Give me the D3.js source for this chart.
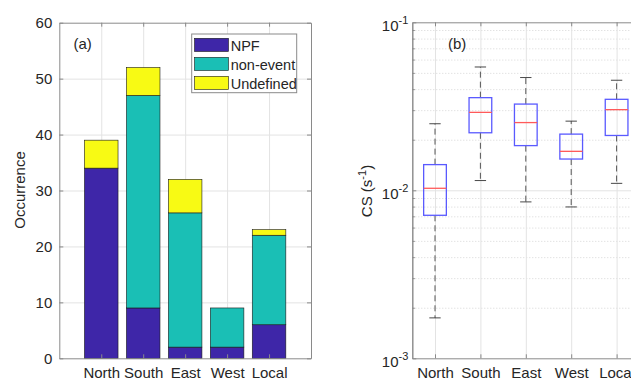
<!DOCTYPE html>
<html>
<head>
<meta charset="utf-8">
<script src="https://cdn.jsdelivr.net/npm/d3@7"></script>
<style>
  html, body { margin: 0; padding: 0; background: #fff; }
  svg { display: block; font-family: "Liberation Sans", Arial, Helvetica, sans-serif; }
</style>
</head>
<body>
<svg id="chart" width="631" height="383"></svg>
<script>
// Wind-sector categories shared by both panels
const categories = ["North", "South", "East", "West", "Local"];

// Panel (a): event occurrence per sector (stacked)
const npfCounts = [34, 9, 2, 2, 6];
const nonEventCounts = [0, 38, 24, 7, 16];
const undefinedCounts = [5, 5, 6, 0, 1];
const occurrenceTicks = [0, 10, 20, 30, 40, 50, 60];
const seriesNames = ["NPF", "non-event", "Undefined"];
const seriesColors = ["#3e26a8", "#1abfb5", "#f8fa14"];

// Panel (b): condensation sink box statistics (s^-1)
const csLowerWhisker = [0.00174, 0.01143, 0.00853, 0.00796, 0.0110];
const csQ1 = [0.0071, 0.0220, 0.01845, 0.01535, 0.0212];
const csMedian = [0.01028, 0.0291, 0.0253, 0.01706, 0.0302];
const csQ3 = [0.01422, 0.0356, 0.0326, 0.0216, 0.0348];
const csUpperWhisker = [0.0249, 0.0542, 0.0469, 0.0258, 0.0452];
const csDecades = [-3, -2, -1];

const svg = d3.select("#chart");
const textColor = "#262626";
const axisColor = "#8a8a8a";
const gridColor = "#e3e3e3";
const fontSize = 15;

// ---------------- Panel (a) ----------------
const A = { left: 59.3, right: 311, top: 22.7, bottom: 358.3 };
const xA = d3.scaleLinear().domain([0, 6]).range([A.left, A.right]);
const yA = d3.scaleLinear().domain([0, 60]).range([A.bottom, A.top]);
const gA = svg.append("g");

// grid
gA.append("g").attr("transform", `translate(${A.left},0)`)
  .call(d3.axisLeft(yA).tickValues(occurrenceTicks.slice(1, -1)).tickSize(-(A.right - A.left)).tickFormat(""))
  .call(g => { g.select(".domain").remove(); g.selectAll("line").attr("stroke", gridColor); });
gA.append("g").attr("transform", `translate(0,${A.bottom})`)
  .call(d3.axisBottom(xA).tickValues(d3.range(1, 6)).tickSize(-(A.bottom - A.top)).tickFormat(""))
  .call(g => { g.select(".domain").remove(); g.selectAll("line").attr("stroke", gridColor); });

// stacked bars
const rows = categories.map((c, i) => ({ cat: i + 1, "NPF": npfCounts[i], "non-event": nonEventCounts[i], "Undefined": undefinedCounts[i] }));
const stacked = d3.stack().keys(seriesNames)(rows);
const barW = xA(0.8) - xA(0);
stacked.forEach((layer, li) => {
  gA.append("g").selectAll("rect").data(layer.filter(d => d[1] > d[0])).join("rect")
    .attr("x", d => xA(d.data.cat) - barW / 2)
    .attr("width", barW)
    .attr("y", d => yA(d[1]))
    .attr("height", d => yA(d[0]) - yA(d[1]))
    .attr("fill", seriesColors[li])
    .attr("stroke", "#1a1a1a")
    .attr("stroke-width", 0.6);
});

// axes (box with inward ticks)
const styleAxis = g => {
  g.select(".domain").attr("stroke", axisColor);
  g.selectAll(".tick line").attr("stroke", axisColor);
  g.selectAll("text").attr("fill", textColor).style("font-size", fontSize + "px")
    .style("font-family", "'Liberation Sans', Arial, sans-serif");
};
gA.append("g").attr("transform", `translate(${A.left},0)`)
  .call(d3.axisLeft(yA).tickValues(occurrenceTicks).tickSizeInner(-4).tickSizeOuter(0).tickPadding(7))
  .call(styleAxis);
gA.append("g").attr("transform", `translate(${A.right},0)`)
  .call(d3.axisRight(yA).tickValues(occurrenceTicks).tickSizeInner(-4).tickSizeOuter(0).tickFormat(""))
  .call(styleAxis);
gA.append("g").attr("transform", `translate(0,${A.bottom})`)
  .call(d3.axisBottom(xA).tickValues(d3.range(1, 6)).tickSizeInner(-4).tickSizeOuter(0).tickPadding(9)
    .tickFormat(d => categories[d - 1]))
  .call(styleAxis);
gA.append("g").attr("transform", `translate(0,${A.top})`)
  .call(d3.axisTop(xA).tickValues(d3.range(1, 6)).tickSizeInner(-4).tickSizeOuter(0).tickFormat(""))
  .call(styleAxis);

gA.append("text").attr("transform", `translate(25,190) rotate(-90)`)
  .attr("text-anchor", "middle").attr("fill", textColor).style("font-size", fontSize + "px")
  .text("Occurrence");
gA.append("text").attr("x", 73.5).attr("y", 49).attr("fill", textColor)
  .style("font-size", fontSize + "px").text("(a)");

// legend
const leg = gA.append("g");
leg.append("rect").attr("x", 191.7).attr("y", 34).attr("width", 105).attr("height", 58.7)
  .attr("fill", "#fff").attr("stroke", axisColor).attr("stroke-width", 1);
seriesNames.forEach((name, i) => {
  const y0 = 38.3 + i * 19;
  leg.append("rect").attr("x", 194.5).attr("y", y0).attr("width", 34).attr("height", 13.2)
    .attr("fill", seriesColors[i]).attr("stroke", "#1a1a1a").attr("stroke-width", 0.6);
  leg.append("text").attr("x", 230.7).attr("y", y0 + 12.3).attr("fill", textColor)
    .style("font-size", "14.5px").text(name);
});

// ---------------- Panel (b) ----------------
const B = { left: 412.3, right: 639.3, top: 22.3, bottom: 358.3 };
const xB = d3.scaleLinear().domain([0.5, 5.5]).range([B.left, B.right]);
const yB = d3.scaleLog().domain([1e-3, 1e-1]).range([B.bottom, B.top]);
const gB = svg.append("g");

const majorTicks = csDecades.map(e => Math.pow(10, e));
const minorTicks = [];
csDecades.slice(0, -1).forEach(e => d3.range(2, 10).forEach(m => minorTicks.push(m * Math.pow(10, e))));

// grid: dotted minor, solid major, solid vertical
gB.append("g").attr("transform", `translate(${B.left},0)`)
  .call(d3.axisLeft(yB).tickValues(minorTicks).tickSize(-(B.right - B.left)).tickFormat(""))
  .call(g => { g.select(".domain").remove(); g.selectAll("line").attr("stroke", "#d6d6d6").attr("stroke-dasharray", "1,2"); });
gB.append("g").attr("transform", `translate(${B.left},0)`)
  .call(d3.axisLeft(yB).tickValues([1e-2]).tickSize(-(B.right - B.left)).tickFormat(""))
  .call(g => { g.select(".domain").remove(); g.selectAll("line").attr("stroke", gridColor); });
gB.append("g").attr("transform", `translate(0,${B.bottom})`)
  .call(d3.axisBottom(xB).tickValues(d3.range(1, 6)).tickSize(-(B.bottom - B.top)).tickFormat(""))
  .call(g => { g.select(".domain").remove(); g.selectAll("line").attr("stroke", gridColor); });

// box plots
const boxes = categories.map((c, i) => ({
  x: i + 1, lo: csLowerWhisker[i], q1: csQ1[i], med: csMedian[i], q3: csQ3[i], hi: csUpperWhisker[i]
}));
const boxW = xB(0.5) - xB(0);
const capW = xB(0.25) - xB(0);
const bg = gB.append("g").selectAll("g").data(boxes).join("g");
bg.append("line").attr("x1", d => xB(d.x)).attr("x2", d => xB(d.x))
  .attr("y1", d => yB(d.q3)).attr("y2", d => yB(d.hi))
  .attr("stroke", "#444").attr("stroke-width", 0.9).attr("stroke-dasharray", "6,4");
bg.append("line").attr("x1", d => xB(d.x)).attr("x2", d => xB(d.x))
  .attr("y1", d => yB(d.q1)).attr("y2", d => yB(d.lo))
  .attr("stroke", "#444").attr("stroke-width", 0.9).attr("stroke-dasharray", "6,4");
bg.append("line").attr("x1", d => xB(d.x) - capW / 2).attr("x2", d => xB(d.x) + capW / 2)
  .attr("y1", d => yB(d.hi)).attr("y2", d => yB(d.hi)).attr("stroke", "#333").attr("stroke-width", 0.9);
bg.append("line").attr("x1", d => xB(d.x) - capW / 2).attr("x2", d => xB(d.x) + capW / 2)
  .attr("y1", d => yB(d.lo)).attr("y2", d => yB(d.lo)).attr("stroke", "#333").attr("stroke-width", 0.9);
bg.append("rect").attr("x", d => xB(d.x) - boxW / 2).attr("width", boxW)
  .attr("y", d => yB(d.q3)).attr("height", d => yB(d.q1) - yB(d.q3))
  .attr("fill", "none").attr("stroke", "#5a5aff").attr("stroke-width", 1.3);
bg.append("line").attr("x1", d => xB(d.x) - boxW / 2).attr("x2", d => xB(d.x) + boxW / 2)
  .attr("y1", d => yB(d.med)).attr("y2", d => yB(d.med)).attr("stroke", "#ff5a5a").attr("stroke-width", 1.3);

// axes
gB.append("g").attr("transform", `translate(${B.left},0)`)
  .call(d3.axisLeft(yB).tickValues(minorTicks).tickSizeInner(-2.5).tickSizeOuter(0).tickFormat(""))
  .call(styleAxis);
gB.append("g").attr("transform", `translate(${B.left},0)`)
  .call(d3.axisLeft(yB).tickValues(majorTicks).tickSizeInner(-4).tickSizeOuter(0).tickPadding(16).tickFormat(""))
  .call(styleAxis);
gB.append("g").attr("transform", `translate(0,${B.bottom})`)
  .call(d3.axisBottom(xB).tickValues(d3.range(1, 6)).tickSizeInner(-4).tickSizeOuter(0).tickPadding(9)
    .tickFormat(d => categories[d - 1]))
  .call(styleAxis);
gB.append("g").attr("transform", `translate(0,${B.top})`)
  .call(d3.axisTop(xB).tickValues(d3.range(1, 6)).tickSizeInner(-4).tickSizeOuter(0).tickFormat(""))
  .call(styleAxis);

// log tick labels 10^n
csDecades.forEach(e => {
  const t = gB.append("text").attr("x", B.left - 4).attr("y", yB(Math.pow(10, e)) + 8.6)
    .attr("text-anchor", "end").attr("fill", textColor).style("font-size", fontSize + "px");
  t.append("tspan").text("10");
  t.append("tspan").attr("dy", -7).style("font-size", "11px").text(String(e).replace("-", "-"));
});

const yl = gB.append("text").attr("transform", `translate(372,191) rotate(-90)`)
  .attr("text-anchor", "middle").attr("fill", textColor).style("font-size", fontSize + "px");
yl.append("tspan").text("CS (s");
yl.append("tspan").attr("dy", -6).style("font-size", "11px").text("-1");
yl.append("tspan").attr("dy", 6).text(")");
gB.append("text").attr("x", 448).attr("y", 49).attr("fill", textColor)
  .style("font-size", fontSize + "px").text("(b)");
</script>
</body>
</html>
